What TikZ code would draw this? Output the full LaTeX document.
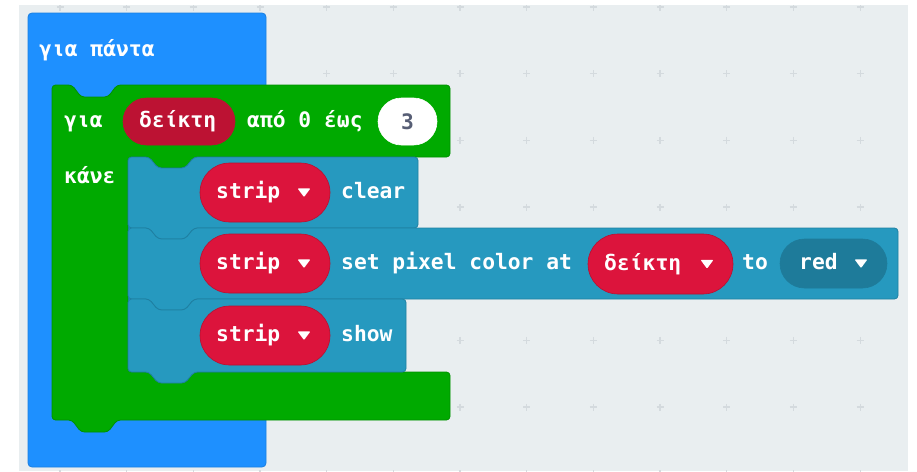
\documentclass[tikz,border=0pt]{standalone}
\usepackage{fontspec}
\usetikzlibrary{shapes.misc}
\newfontfamily\blockfont{DejaVu Sans Mono}

\definecolor{canvas}{HTML}{E9EEF0}
\definecolor{gridmark}{HTML}{D4DADE}
\definecolor{basicblue}{HTML}{1E90FF}
\definecolor{basicblueedge}{HTML}{1A7FE0}
\definecolor{loopgreen}{HTML}{00AA00}
\definecolor{loopgreenedge}{HTML}{009000}
\definecolor{pixteal}{HTML}{2699BF}
\definecolor{pixtealedge}{HTML}{1F80A2}
\definecolor{varred}{HTML}{DC143C}
\definecolor{varrededge}{HTML}{B81030}
\definecolor{loopvar}{HTML}{BC1233}
\definecolor{shadowteal}{HTML}{1E7B9A}
\definecolor{numtext}{HTML}{575E75}

\tikzset{
  blockpath/.style={rounded corners=3.5pt, line width=0.8pt, line join=round},
  pill/.style={rounded rectangle, inner sep=0pt, draw, line width=0.6pt},
  lbl/.style={text=white, font=\blockfont\bfseries\fontsize{21.3}{22}\selectfont,
              inner sep=0pt, anchor=base west},
  droptri/.pic={\fill[white, rounded corners=1pt] (-6.5,-4.2) -- (6.5,-4.2) -- (0,4.6) -- cycle;}
}

\begin{document}
\begin{tikzpicture}[x=1pt, y=-1pt]
\useasboundingbox (0,0) rectangle (917,471);
\fill[white] (0,0) rectangle (917,471);
\fill[canvas] (19,5) rectangle (908,471);

% workspace grid marks
\begin{scope}
  \clip (19,5) rectangle (908,471);
  \foreach \gx in {0,...,12}{
    \foreach \gy in {0,...,7}{
      \draw[gridmark, line width=1.1pt]
        ({60+66.67*\gx-3.5},{7+66.67*\gy}) -- ++(7,0)
        ({60+66.67*\gx},{7+66.67*\gy-3.5}) -- ++(0,7);
    }
  }
\end{scope}

% "forever" block
\draw[fill=basicblue, draw=basicblueedge, line width=0.8pt, rounded corners=4pt]
  (28,13) rectangle (266,467);

% "for" loop block with its inner slot
\draw[blockpath, fill=loopgreen, draw=loopgreenedge]
  (52,85) -- (72,85) -- (81,97) -- (108,97) -- (117,85) -- (450,85)
  -- (450,157) -- (194,157) -- (185,168) -- (158,168) -- (149,157)
  -- (128,157) -- (128,372) -- (450,372) -- (450,420)
  -- (117,420) -- (108,432) -- (81,432) -- (72,420) -- (52,420) -- cycle;

% neopixel statements
\draw[blockpath, fill=pixteal, draw=pixtealedge]
  (128,157) -- (149,157) -- (158,168) -- (185,168) -- (194,157) -- (418,157)
  -- (418,228) -- (194,228) -- (185,239) -- (158,239) -- (149,228) -- (128,228) -- cycle;
\draw[blockpath, fill=pixteal, draw=pixtealedge]
  (128,228) -- (149,228) -- (158,239) -- (185,239) -- (194,228) -- (898,228)
  -- (898,299) -- (194,299) -- (185,310) -- (158,310) -- (149,299) -- (128,299) -- cycle;
\draw[blockpath, fill=pixteal, draw=pixtealedge]
  (128,299) -- (149,299) -- (158,310) -- (185,310) -- (194,299) -- (406,299)
  -- (406,372) -- (194,372) -- (185,383) -- (158,383) -- (149,372) -- (128,372) -- cycle;

% pills
\node[pill, fill=loopvar, draw=loopvar, minimum width=112pt, minimum height=47pt] (hdrvar) at (179,121.5) {};
\node[pill, fill=white, draw=white, minimum width=59pt, minimum height=47pt] (num) at (407.5,121.5) {};
\node[pill, fill=varred, draw=varrededge, minimum width=130pt, minimum height=59pt] (strip1) at (265,192.5) {};
\node[pill, fill=varred, draw=varrededge, minimum width=130pt, minimum height=59pt] (strip2) at (265,263.5) {};
\node[pill, fill=varred, draw=varrededge, minimum width=130pt, minimum height=59pt] (strip3) at (265,335.5) {};
\node[pill, fill=varred, draw=varrededge, minimum width=145pt, minimum height=60pt] (idx) at (660.5,264) {};
\node[pill, fill=shadowteal, draw=shadowteal, minimum width=107pt, minimum height=49pt] (colr) at (833.5,263.5) {};

% labels (placed on their baselines)
\node[lbl] (forever) at (39,56) {για πάντα};
\node[lbl] (forkw) at (64,127.5) {για};
\node[lbl] (forvar) at (139,127.5) {δείκτη};
\node[lbl] (range) at (247,127.5) {από 0 έως};
\node[lbl, text=numtext, anchor=base] (numtxt) at (407.5,129) {3};
\node[lbl] (dokw) at (64,183.5) {κάνε};

\node[lbl] (s1) at (216,198.5) {strip};
\pic at (304,192.5) {droptri};
\node[lbl] (clr) at (341,198.5) {clear};

\node[lbl] (s2) at (216,269.5) {strip};
\pic at (304,263.5) {droptri};
\node[lbl] (setpx) at (341,269.5) {set pixel color at};
\node[lbl] (idxtxt) at (604,270) {δείκτη};
\pic at (707,264) {droptri};
\node[lbl] (tokw) at (742,269.5) {to};
\node[lbl] (redtxt) at (799,269.5) {red};
\pic at (861,263.5) {droptri};

\node[lbl] (s3) at (216,341.5) {strip};
\pic at (304,335.5) {droptri};
\node[lbl] (shw) at (341,341.5) {show};
\end{tikzpicture}
\end{document}
